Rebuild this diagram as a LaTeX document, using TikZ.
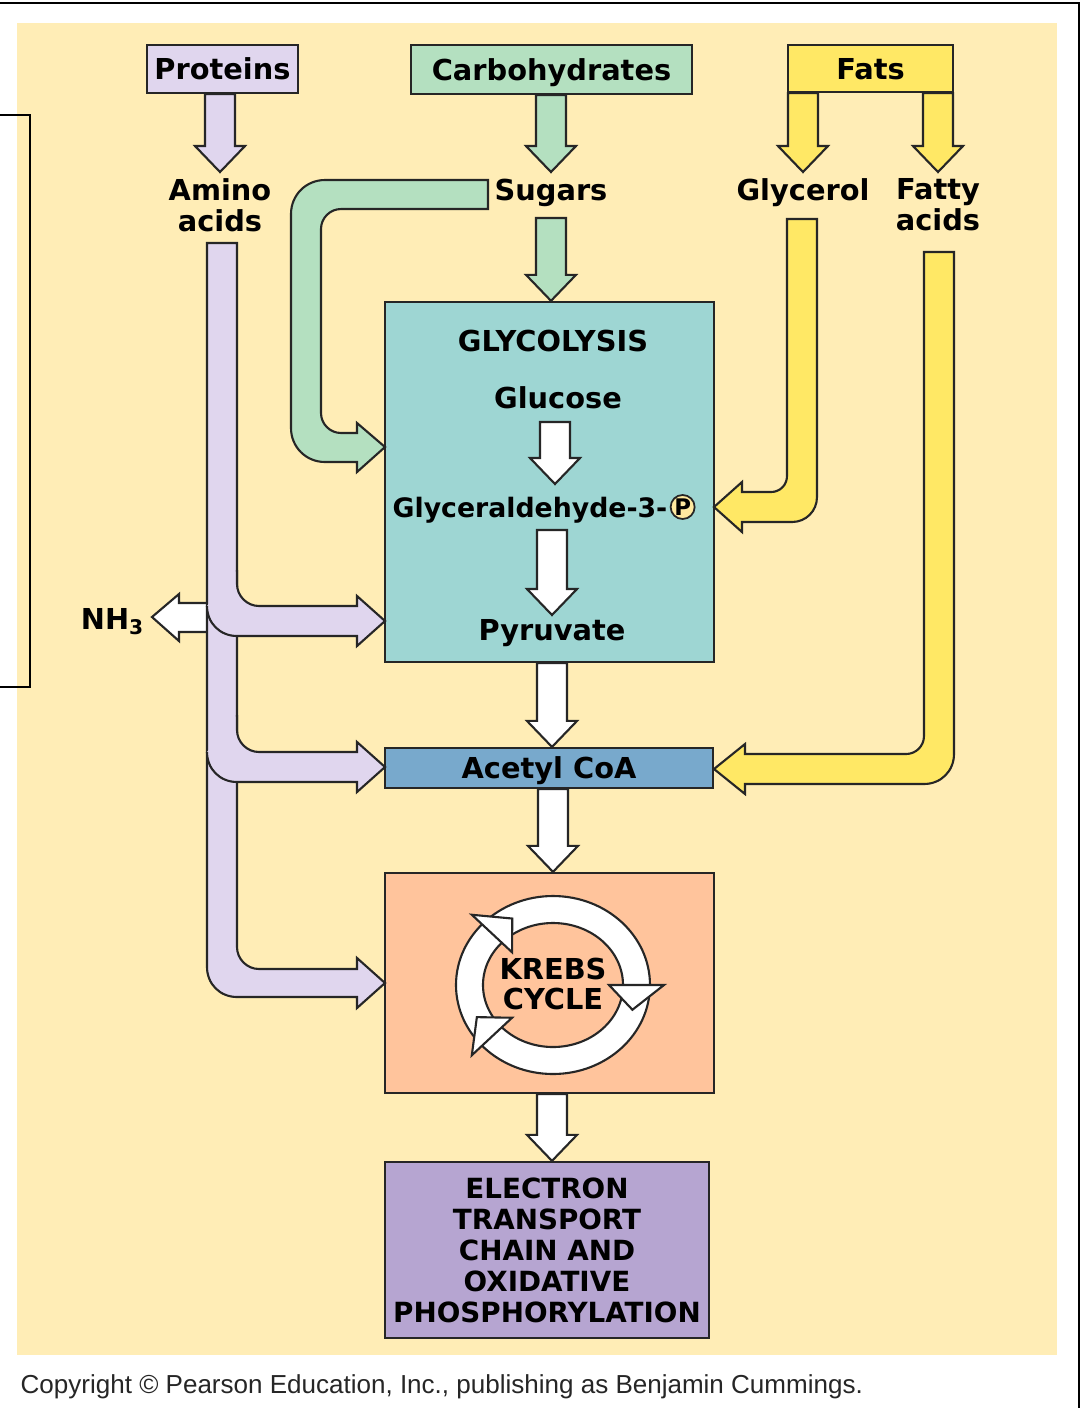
\documentclass[tikz,border=0pt]{standalone}
\usepackage{fontspec}
\setmainfont{DejaVu Sans}
\newfontfamily\copyfont{Liberation Sans}
\usetikzlibrary{calc,positioning}

\definecolor{bgcol}{HTML}{FFEDB6}
\definecolor{lavcol}{HTML}{E0D6EE}
\definecolor{mintcol}{HTML}{B4E0C0}
\definecolor{yelcol}{HTML}{FFE865}
\definecolor{glycol}{HTML}{9ED6D3}
\definecolor{acol}{HTML}{78A9CC}
\definecolor{krebscol}{HTML}{FFC49C}
\definecolor{etccol}{HTML}{B6A5D1}
\definecolor{pcol}{HTML}{FFE9A0}

\tikzset{
  box/.style={draw=black!85,line width=0.6pt,inner sep=0pt},
  lbl/.style={font=\bfseries\fontsize{8.2}{8.8}\selectfont,align=center,inner sep=0pt},
  lbl1/.style={lbl,text depth=0pt},
  blockline/.style={draw=black!85,line width=0.6pt,line join=miter},
  pcirc/.style={circle,draw=black!85,line width=0.5pt,fill=pcol,minimum size=0.24cm,
    inner sep=0pt,font=\bfseries\fontsize{6.5}{7}\selectfont}
}

% straight block arrow: start row from #1, tip at #2
\newcommand{\blockdown}[3]{%
  \draw[blockline,fill=#3] let \p1=(#1), \p2=(#2) in
    (\x2-0.15cm,\y1) -- (\x2-0.15cm,\y2+0.26cm) -- (\x2-0.25cm,\y2+0.26cm)
    -- (\x2,\y2) -- (\x2+0.25cm,\y2+0.26cm) -- (\x2+0.15cm,\y2+0.26cm)
    -- (\x2+0.15cm,\y1) -- cycle;}
% head on the Krebs ring: base angle, tip angle
\newcommand{\krebshead}[2]{%
  \draw[blockline,fill=white] ($(kc)+({111*cos(#1)},{103*sin(#1)})$)
    -- ($(kc)+({84*cos(#2)},{76*sin(#2)})$)
    -- ($(kc)+({56*cos(#1)},{48*sin(#1)})$) -- cycle;}

\begin{document}
\begin{tikzpicture}[x=0.01cm,y=-0.01cm]
    \useasboundingbox (0,0) rectangle (1084,1408);
    \fill[white] (0,0) rectangle (1084,1408);
    \fill[bgcol] (17,23) rectangle (1057,1355);
    \draw[line width=0.8pt] (0,3) -- (1079,3) -- (1079,1408);
    \draw[line width=0.5pt] (0,115) -- (30,115) -- (30,687) -- (0,687);

    % sources
    \node[box,lbl1,fill=lavcol,minimum width=1.51cm,minimum height=0.48cm] (prot) at (222.5,69) {Proteins};
    \node[box,lbl1,fill=mintcol,minimum width=2.81cm,minimum height=0.49cm] (carb) at (551.5,69.5) {Carbohydrates};
    \node[box,lbl1,fill=yelcol,minimum width=1.65cm,minimum height=0.47cm] (fats) at (870.5,68.5) {Fats};

    \node[lbl] (amino) at (220,205) {Amino\\acids};
    \node[lbl1] (sugars) at (551,190) {Sugars};
    \node[lbl1] (glycerol) at (803,190) {Glycerol};
    \node[lbl] (fatty) at (938,205) {Fatty\\acids};

    % stages
    \node[box,fill=glycol,minimum width=3.29cm,minimum height=3.6cm] (glyco) at (549.5,482) {};
    \node[box,lbl1,fill=acol,minimum width=3.28cm,minimum height=0.4cm] (acoa) at (549,768) {Acetyl CoA};
    \node[box,fill=krebscol,minimum width=3.29cm,minimum height=2.2cm] (krebs) at (549.5,983) {};
    \node[box,lbl,fill=etccol,minimum width=3.24cm,minimum height=1.76cm,
        font=\bfseries\fontsize{7.9}{8.8}\selectfont] (etc) at (547,1250)
        {ELECTRON\\TRANSPORT\\CHAIN AND\\OXIDATIVE\\PHOSPHORYLATION};

    \node[lbl1] (gtitle) at (553,341) {GLYCOLYSIS};
    \node[lbl1] (glucose) at (558,398) {Glucose};
    \node[lbl1,anchor=east,font=\bfseries\fontsize{7.6}{8.8}\selectfont] (gap) at (668,507) {Glyceraldehyde-3-};
    \node[pcirc,right=0.5pt of gap] (pc) {P};
    \node[lbl1] (pyruvate) at (552,630) {Pyruvate};
    \node[lbl1] (nh3) at (113,619) {NH\textsubscript{3}};

    \coordinate (tiprow) at (0,172);
    \coordinate (lowrow) at (0,218);
    \coordinate (kc) at (553,985);
    \coordinate (w1a) at (555,422);
    \coordinate (w1b) at (555,484);
    \coordinate (w2a) at (552,530);
    \coordinate (w2b) at (552,615);

    % straight arrows
    \blockdown{prot.south}{amino |- tiprow}{lavcol}
    \blockdown{carb.south}{sugars |- tiprow}{mintcol}
    \blockdown{fats.south}{glycerol |- tiprow}{yelcol}
    \blockdown{fats.south}{fatty |- tiprow}{yelcol}
    \blockdown{lowrow}{sugars |- glyco.north}{mintcol}
    \blockdown{w1a}{w1b}{white}
    \blockdown{w2a}{w2b}{white}
    \blockdown{glyco.south}{pyruvate |- acoa.north}{white}
    \blockdown{acoa.south}{kc |- krebs.north}{white}
    \blockdown{krebs.south}{pyruvate |- etc.north}{white}

    % amino acids
    \draw[blockline,fill=white] (207,603) -- (179,603) -- (179,594) -- (152,617)
        -- (179,641) -- (179,632) -- (207,632);
    \draw[blockline,fill=lavcol] (207,243) -- (237,243) -- (237,947)
        .. controls (237,959) and (247,969) .. (259,969) -- (357,969) -- (357,958)
        -- (385,983) -- (357,1008) -- (357,997) -- (237,997)
        .. controls (220,997) and (207,984) .. (207,967) -- cycle;
    \draw[blockline,fill=lavcol] (237,715) -- (237,730)
        .. controls (237,742) and (247,752) .. (259,752) -- (357,752) -- (357,742)
        -- (385,767) -- (357,792) -- (357,782) -- (237,782)
        .. controls (220,782) and (207,769) .. (207,752);
    \draw[blockline,fill=lavcol] (237,570) -- (237,584)
        .. controls (237,596) and (247,606) .. (259,606) -- (357,606) -- (357,596)
        -- (385,621) -- (357,646) -- (357,636) -- (237,636)
        .. controls (220,636) and (207,623) .. (207,606);

    % sugars
    \draw[blockline,fill=mintcol] (488,180) -- (325,180)
        .. controls (306,180) and (291,195) .. (291,214) -- (291,428)
        .. controls (291,447) and (306,462) .. (325,462) -- (357,462) -- (357,472)
        -- (385,447) -- (357,423) -- (357,433) -- (341,433)
        .. controls (330,433) and (321,424) .. (321,413) -- (321,229)
        .. controls (321,218) and (330,209) .. (341,209) -- (488,209) -- cycle;

    % glycerol and fatty acids
    \draw[blockline,fill=yelcol] (787,219) -- (817,219) -- (817,497)
        .. controls (817,511) and (806,522) .. (792,522) -- (742,522) -- (742,532)
        -- (714,507) -- (742,482) -- (742,492) -- (771,492)
        .. controls (780,492) and (787,485) .. (787,476) -- cycle;
    \draw[blockline,fill=yelcol] (924,252) -- (954,252) -- (954,754)
        .. controls (954,771) and (941,784) .. (924,784) -- (745,784) -- (745,794)
        -- (714,769) -- (745,744) -- (745,754) -- (906,754)
        .. controls (916,754) and (924,746) .. (924,736) -- cycle;

    % krebs ring
    \draw[blockline,fill=white,even odd rule] (kc) ellipse[x radius=97,y radius=89]
        (kc) ellipse[x radius=70,y radius=62];
    \krebshead{0}{19}
    \krebshead{137}{155}
    \krebshead{-137}{-119}
    \node[lbl] (ktext) at (553,984) {KREBS\\CYCLE};

    \node[anchor=west,inner sep=0pt,text depth=0pt,text=black!85,
        font=\copyfont\fontsize{7.4}{9}\selectfont] (copy) at (20,1384)
        {Copyright © Pearson Education, Inc., publishing as Benjamin Cummings.};
\end{tikzpicture}
\end{document}
